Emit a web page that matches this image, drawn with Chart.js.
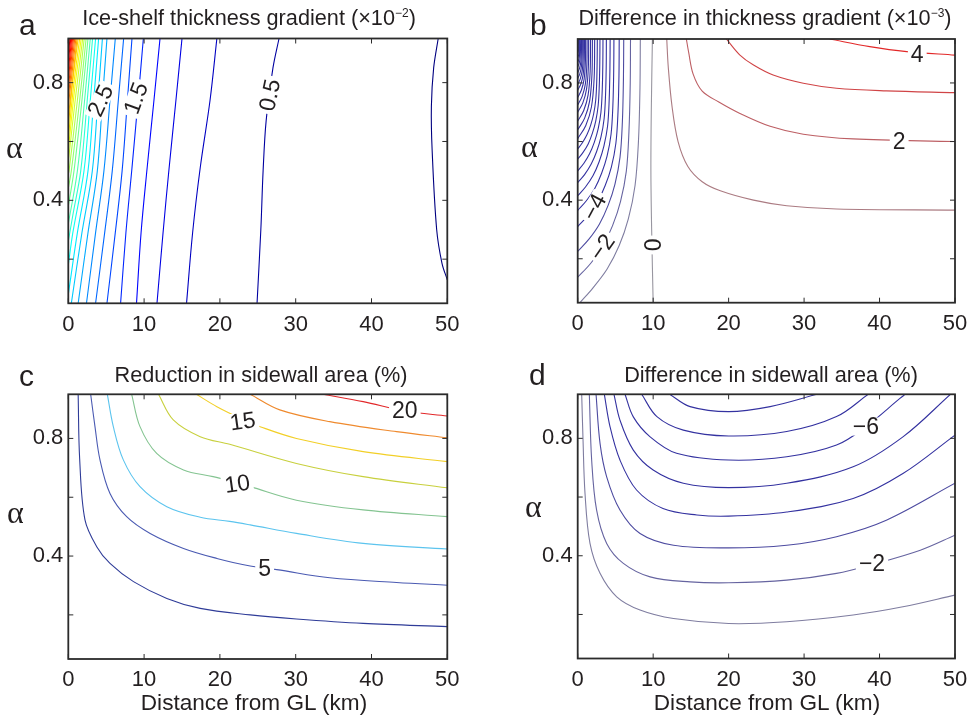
<!DOCTYPE html>
<html>
<head>
<meta charset="utf-8">
<script src="https://cdn.jsdelivr.net/npm/chart.js@4.4.0/dist/chart.umd.min.js"></script>
<style>
  html, body { margin: 0; padding: 0; background: #fff; }
  body { width: 974px; height: 722px; position: relative; overflow: hidden;
         font-family: "Liberation Sans", Arial, sans-serif; color: #231f20; }
  canvas { position: absolute; }
  .txt { position: absolute; white-space: nowrap; line-height: 1; }
  .title { font-size: 21.7px; transform: translateX(-50%); }
  .letter { font-size: 30px; }
  .alpha { font-family: "Liberation Serif", "DejaVu Serif", serif; font-size: 32px; }
  .xlab { font-size: 22.6px; transform: translateX(-50%); }
  sup { font-size: 12px; position: relative; top: -8px; vertical-align: baseline; }
</style>
</head>
<body>
<canvas id="chartA" width="487" height="345" style="left:0;top:0"></canvas>
<canvas id="chartB" width="487" height="345" style="left:487px;top:0"></canvas>
<canvas id="chartC" width="487" height="377" style="left:0;top:345px"></canvas>
<canvas id="chartD" width="487" height="377" style="left:487px;top:345px"></canvas>

<div class="txt letter" style="left:19px;top:10px">a</div>
<div class="txt letter" style="left:530px;top:10px">b</div>
<div class="txt letter" style="left:19px;top:361px">c</div>
<div class="txt letter" style="left:529px;top:360px">d</div>

<div class="txt title" style="left:249px;top:7px">Ice-shelf thickness gradient (×10<sup>−2</sup>)</div>
<div class="txt title" style="left:765px;top:7px">Difference in thickness gradient (×10<sup>−3</sup>)</div>
<div class="txt title" style="left:261px;top:364px">Reduction in sidewall area (%)</div>
<div class="txt title" style="left:771px;top:364px">Difference in sidewall area (%)</div>

<div class="txt alpha" style="left:6px;top:131px">α</div>
<div class="txt alpha" style="left:521px;top:130px">α</div>
<div class="txt alpha" style="left:7px;top:496px">α</div>
<div class="txt alpha" style="left:525px;top:490px">α</div>

<div class="txt xlab" style="left:254px;top:692px">Distance from GL (km)</div>
<div class="txt xlab" style="left:767px;top:692px">Distance from GL (km)</div>

<script>
// axes
const xTicks = [0, 10, 20, 30, 40, 50];
const yTicks = [0.2, 0.4, 0.6, 0.8];
const yTickLabels = [0.4, 0.8];

// (a) ice-shelf thickness gradient, x10^-2 ; each line = [km, alpha] pairs
const gradLevels = [0.25, 0.5, 0.75, 1, 1.25, 1.5, 1.75, 2, 2.25, 2.5, 2.75, 3, 3.25, 3.5, 3.75, 4,
  4.25, 4.5, 4.75, 5, 5.25, 5.5, 5.75, 6, 6.25, 6.5, 6.75, 7, 7.25, 7.5, 7.75, 8];
const gradLines = [
  [[48.8,0.95],[48.2,0.85],[47.9,0.72],[48.0,0.57],[48.6,0.30],[49.3,0.186],[50,0.13]],
  [[27.8,0.95],[27.0,0.85],[26.1,0.67],[25.7,0.5],[25.4,0.3],[24.9,0.05]],
  [[19.6,0.95],[18.7,0.74],[17.4,0.51],[16.4,0.29],[15.6,0.05]],
  [[15.0,0.95],[14.2,0.74],[13.3,0.51],[12.5,0.29],[11.7,0.05]],
  [[12.1,0.95],[11.3,0.74],[10.4,0.51],[9.6,0.29],[9.0,0.05]],
  [[9.9,0.95],[9.2,0.74],[8.4,0.51],[7.6,0.29],[6.9,0.05]],
  [[8.4,0.95],[7.8,0.74],[7.1,0.5],[6.2,0.29],[5.1,0.05]],
  [[7.3,0.95],[6.6,0.74],[5.8,0.5],[4.8,0.29],[3.6,0.05]],
  [[6.2,0.95],[5.5,0.74],[4.7,0.5],[3.6,0.29],[2.4,0.05]],
  [[5.1,0.95],[4.5,0.74],[3.83,0.5],[2.6,0.29],[1.3,0.05]],
  [[4.5,0.95],[3.9,0.74],[3.17,0.5],[1.8,0.29],[0.4,0.05]],
  [[4.0,0.95],[3.35,0.74],[2.6,0.5],[1.2,0.29],[0,0.08]],
  [[3.6,0.95],[2.9,0.74],[2.07,0.5],[0.6,0.29],[0,0.18]],
  [[3.2,0.95],[2.5,0.74],[1.64,0.5],[0.6,0.35],[0,0.26]],
  [[2.9,0.95],[2.15,0.74],[1.2,0.5],[0,0.32]],
  [[2.6,0.95],[1.8,0.74],[0.75,0.5],[0,0.38]],
  [[2.35,0.95],[1.5,0.74],[0.4,0.5],[0,0.44]],
  [[2.1,0.95],[1.2,0.74],[0.1,0.5],[0,0.49]],
  [[1.9,0.95],[0.95,0.75],[0,0.53]],
  [[1.7,0.95],[0.8,0.77],[0,0.57]],
  [[1.5,0.95],[0.7,0.79],[0,0.61]],
  [[1.3,0.95],[0.6,0.81],[0,0.65]],
  [[1.15,0.95],[0,0.68]],
  [[1.0,0.95],[0,0.72]],
  [[0.85,0.95],[0,0.75]],
  [[0.7,0.95],[0,0.78]],
  [[0.57,0.95],[0,0.81]],
  [[0.45,0.95],[0,0.84]],
  [[0.33,0.95],[0,0.87]],
  [[0.22,0.95],[0,0.89]],
  [[0.12,0.95],[0,0.92]],
  [[0.04,0.95],[0,0.94]]
];
const gradLabels = [
  { x: 4.26, y: 0.739, text: '2.5', rot: -65 },
  { x: 8.93, y: 0.747, text: '1.5', rot: -70 },
  { x: 26.6, y: 0.758, text: '0.5', rot: -78 }
];

// (b) difference in thickness gradient, x10^-3
const diffGradLevels = [4, 3, 2, 1, 0, -1, -2, -3, -4, -5, -6, -7, -8, -9, -10, -11, -12, -13,
  -14, -15, -16, -17, -18, -19, -20, -21, -22, -23, -24, -25, -26];
const diffGradLines = [
  [[33.4,0.95],[38.7,0.924],[43.6,0.907],[50,0.895]],
  [[19.7,0.95],[21.5,0.895],[23.3,0.861],[25.9,0.827],[29.9,0.799],[34.3,0.782],[40.9,0.773],[50,0.767]],
  [[14.4,0.95],[14.7,0.905],[15.3,0.83],[16.5,0.772],[18.7,0.735],[21.5,0.696],[25.5,0.652],[29.9,0.625],[36.5,0.609],[50,0.6]],
  [[11.8,0.95],[12.0,0.855],[12.5,0.72],[13.3,0.6],[14.6,0.515],[16.5,0.463],[18.9,0.432],[23.3,0.40],[27.7,0.381],[34.3,0.37],[50,0.366]],
  [[9.9,0.95],[9.75,0.7],[9.7,0.5],[9.8,0.3],[10.0,0.05]],
  [[0.3,0.05],[2.0,0.1],[3.9,0.165],[5.5,0.245],[6.7,0.335],[7.6,0.45],[8.05,0.6],[8.25,0.78],[8.3,0.95]],
  [[0,0.137],[1.68,0.183],[3.29,0.241],[4.62,0.313],[5.67,0.395],[6.44,0.498],[6.79,0.633],[6.96,0.796],[7.0,0.95]],
  [[0,0.225],[1.46,0.266],[2.87,0.318],[4.03,0.382],[4.94,0.455],[5.61,0.547],[5.92,0.667],[6.06,0.812],[6.1,0.95]],
  [[0,0.31],[1.32,0.346],[2.59,0.392],[3.63,0.449],[4.46,0.513],[5.06,0.594],[5.34,0.7],[5.47,0.828],[5.5,0.95]],
  [[0,0.365],[1.15,0.398],[2.26,0.44],[3.17,0.492],[3.89,0.55],[4.42,0.625],[4.66,0.722],[4.77,0.839],[4.8,0.95]],
  [[0,0.415],[1.03,0.445],[2.02,0.483],[2.84,0.531],[3.48,0.585],[3.96,0.653],[4.17,0.741],[4.27,0.848],[4.3,0.95]],
  [[0,0.46],[0.91,0.487],[1.79,0.523],[2.51,0.566],[3.08,0.615],[3.5,0.678],[3.69,0.759],[3.78,0.857],[3.8,0.95]],
  [[0,0.5],[0.8,0.525],[1.57,0.558],[2.21,0.598],[2.71,0.643],[3.08,0.7],[3.25,0.775],[3.33,0.865],[3.35,0.95]],
  [[0,0.54],[0.71,0.563],[1.39,0.592],[1.95,0.629],[2.39,0.67],[2.71,0.722],[2.86,0.79],[2.93,0.872],[2.95,0.95]],
  [[0,0.575],[0.62,0.596],[1.22,0.623],[1.72,0.656],[2.11,0.694],[2.39,0.742],[2.52,0.804],[2.58,0.879],[2.6,0.95]],
  [[0,0.61],[1.06,0.654],[1.82,0.718],[2.18,0.817],[2.25,0.95]],
  [[0,0.64],[0.92,0.68],[1.58,0.738],[1.89,0.829],[1.95,0.95]],
  [[0,0.67],[0.8,0.706],[1.38,0.759],[1.65,0.841],[1.7,0.95]],
  [[0,0.7],[0.68,0.732],[1.17,0.779],[1.41,0.853],[1.45,0.95]],
  [[0,0.725],[0.59,0.754],[1.01,0.796],[1.21,0.862],[1.25,0.95]],
  [[0,0.75],[0.49,0.776],[0.85,0.813],[1.02,0.872],[1.05,0.95]],
  [[0,0.775],[0.42,0.797],[0.73,0.83],[0.87,0.882],[0.9,0.95]],
  [[0,0.795],[0.35,0.815],[0.61,0.844],[0.73,0.89],[0.75,0.95]],
  [[0,0.815],[0.29,0.832],[0.5,0.858],[0.6,0.897],[0.62,0.95]],
  [[0,0.835],[0.24,0.85],[0.41,0.871],[0.49,0.905],[0.5,0.95]],
  [[0,0.855],[0.19,0.867],[0.32,0.885],[0.4,0.95]],
  [[0,0.87],[0.14,0.88],[0.24,0.895],[0.3,0.95]],
  [[0,0.885],[0.1,0.893],[0.18,0.905],[0.22,0.95]],
  [[0,0.9],[0.07,0.906],[0.12,0.916],[0.15,0.95]],
  [[0,0.915],[0.05,0.92],[0.09,0.95]],
  [[0,0.93],[0.04,0.95]]
];
const diffGradLabels = [
  { x: 2.2, y: 0.376, text: '−4', rot: -62 },
  { x: 3.26, y: 0.239, text: '−2', rot: -55 },
  { x: 10.0, y: 0.247, text: '0', rot: -90 },
  { x: 45.0, y: 0.895, text: '4', rot: 0 },
  { x: 42.6, y: 0.601, text: '2', rot: 0 }
];

// (c) reduction in sidewall area (%)
const wallLevels = [2.5, 5, 7.5, 10, 12.5, 15, 17.5, 20];
const wallLines = [
  [[1.3,0.95],[1.5,0.73],[2.2,0.523],[3.75,0.432],[5.5,0.375],[8.6,0.313],[13.0,0.256],[17.4,0.222],[24.0,0.2],[30.1,0.186],[38.9,0.171],[50,0.16]],
  [[2.95,0.95],[3.52,0.84],[4.18,0.727],[5.5,0.613],[7.7,0.534],[10.8,0.477],[15.2,0.426],[19.6,0.392],[24,0.366],[27.5,0.354],[34.5,0.326],[43.3,0.31],[50,0.301]],
  [[5.15,0.95],[5.94,0.84],[7.26,0.727],[9.46,0.636],[13.0,0.568],[17.4,0.532],[21.3,0.518],[24,0.506],[30.1,0.477],[38.9,0.443],[50,0.424]],
  [[8.36,0.95],[9.46,0.84],[11.66,0.749],[15.2,0.693],[19.1,0.67],[22.3,0.648],[24,0.636],[30.1,0.59],[38.9,0.557],[50,0.534]],
  [[11.9,0.95],[13.85,0.863],[17.4,0.806],[21.3,0.78],[30.1,0.715],[38.9,0.67],[50,0.632]],
  [[16.9,0.95],[19.6,0.908],[23,0.865],[25.3,0.84],[30.1,0.8],[38.9,0.755],[50,0.721]],
  [[24,0.95],[27.9,0.897],[34.5,0.857],[43.3,0.823],[50,0.802]],
  [[33.6,0.95],[38.9,0.925],[44.4,0.893],[50,0.876]]
];
const wallLabels = [
  { x: 25.9, y: 0.357, text: '5', rot: 0 },
  { x: 22.3, y: 0.645, text: '10', rot: -8 },
  { x: 23.0, y: 0.858, text: '15', rot: -8 },
  { x: 44.4, y: 0.893, text: '20', rot: 0 }
];

// (d) difference in sidewall area (%)
const diffWallLevels = [-1, -2, -3, -4, -5, -6, -7, -8];
const diffWallLines = [
  [[0.53,0.95],[0.7,0.8],[0.97,0.612],[1.63,0.442],[2.96,0.34],[5.17,0.26],[8.26,0.215],[12.7,0.186],[20,0.169],[27.7,0.175],[36.5,0.198],[43.1,0.226],[50,0.266]],
  [[1.54,0.95],[1.85,0.726],[2.5,0.556],[3.84,0.442],[6.05,0.374],[9.6,0.328],[14.9,0.311],[20,0.308],[27.7,0.317],[34.3,0.34],[39.0,0.37],[45.4,0.419],[50,0.47]],
  [[2.43,0.95],[2.96,0.783],[3.84,0.669],[5.6,0.556],[8.26,0.476],[12.7,0.436],[20,0.427],[27.7,0.436],[34.3,0.465],[40.9,0.521],[50,0.647]],
  [[3.53,0.95],[4.28,0.84],[5.6,0.726],[7.8,0.624],[11.3,0.561],[15.8,0.539],[20,0.535],[27.7,0.549],[36.5,0.595],[43.1,0.68],[50,0.811]],
  [[4.81,0.95],[5.6,0.862],[7.37,0.76],[10,0.692],[14,0.647],[20,0.632],[27.7,0.647],[36.5,0.703],[43.1,0.805],[49.4,0.95]],
  [[6.27,0.95],[7.37,0.873],[9.6,0.805],[13.1,0.749],[20,0.726],[27.7,0.737],[34.3,0.777],[38.2,0.84],[42.7,0.936],[43.4,0.95]],
  [[8.48,0.95],[10.5,0.874],[14,0.828],[20,0.808],[27.7,0.823],[34.3,0.874],[38.5,0.95]],
  [[12.2,0.95],[14.9,0.908],[20,0.891],[25.5,0.908],[31.7,0.95]]
];
const diffWallLabels = [
  { x: 38.2, y: 0.84, text: '−6', rot: 0 },
  { x: 39.0, y: 0.372, text: '−2', rot: 0 }
];

const ink = '#231f20';
const fontFamily = '"Liberation Sans", Arial, sans-serif';
const wallColors = ['#2f3c98', '#4a5ab2', '#5cc4ee', '#84c491', '#c8d03e', '#f2cf27', '#ef8a2e', '#e2282a'];

function jet(t) {
  const c = v => Math.round(255 * Math.max(0, Math.min(1, v)));
  return `rgb(${c(1.5 - Math.abs(4 * t - 3))},${c(1.5 - Math.abs(4 * t - 2))},${c(1.5 - Math.abs(4 * t - 1))})`;
}

function diverge(level) {
  const t = Math.min(1, Math.abs(level) / 4);
  const g = [152, 150, 160];
  const e = level < 0 ? [52, 50, 160] : [226, 40, 40];
  return 'rgb(' + g.map((v, i) => Math.round(v + (e[i] - v) * t)).join(',') + ')';
}

function contourSets(lines, levels, colorOf) {
  return lines.map((pts, i) => ({
    data: pts.map(p => ({ x: p[0], y: p[1] })),
    showLine: true,
    borderColor: colorOf(levels[i], i),
    borderWidth: 1.1,
    pointRadius: 0,
    tension: 0.35,
    fill: false,
    clip: 0
  }));
}

// contour labels with a white gap behind them
const contourLabels = {
  id: 'contourLabels',
  afterDatasetsDraw(chart, args, opts) {
    const { ctx, scales: { x, y } } = chart;
    ctx.save();
    ctx.font = `23px ${fontFamily}`;
    ctx.textAlign = 'center';
    ctx.textBaseline = 'middle';
    (opts.items || []).forEach(l => {
      const px = x.getPixelForValue(l.x), py = y.getPixelForValue(l.y);
      const w = ctx.measureText(l.text).width + 6;
      ctx.save();
      ctx.translate(px, py);
      ctx.rotate(l.rot * Math.PI / 180);
      ctx.fillStyle = '#fff';
      ctx.fillRect(-w / 2, -9, w, 18);
      ctx.fillStyle = ink;
      ctx.fillText(l.text, 0, 1);
      ctx.restore();
    });
    ctx.restore();
  }
};

// box round the plot with inward tick marks on all sides
const frame = {
  id: 'frame',
  afterDraw(chart) {
    const { ctx, chartArea: a, scales: { x, y } } = chart;
    ctx.save();
    ctx.strokeStyle = '#2b2b2b';
    ctx.lineWidth = 1;
    ctx.beginPath();
    xTicks.forEach(v => {
      const px = x.getPixelForValue(v);
      ctx.moveTo(px, a.bottom); ctx.lineTo(px, a.bottom - 5);
      ctx.moveTo(px, a.top); ctx.lineTo(px, a.top + 5);
    });
    yTicks.forEach(v => {
      const py = y.getPixelForValue(v);
      ctx.moveTo(a.left, py); ctx.lineTo(a.left + 5, py);
      ctx.moveTo(a.right, py); ctx.lineTo(a.right - 5, py);
    });
    ctx.stroke();
    ctx.lineWidth = 1.8;
    ctx.strokeRect(a.left, a.top, a.width, a.height);
    ctx.restore();
  }
};

function makeChart(id, datasets, labels, box) {
  const tickFont = { family: fontFamily, size: 22 };
  new Chart(document.getElementById(id), {
    type: 'scatter',
    data: { datasets },
    plugins: [contourLabels, frame],
    options: {
      responsive: false,
      animation: false,
      events: [],
      layout: { autoPadding: false, padding: { left: 0, top: box.top, right: box.right, bottom: 0 } },
      plugins: {
        legend: { display: false },
        tooltip: { enabled: false },
        contourLabels: { items: labels }
      },
      scales: {
        x: {
          type: 'linear', min: 0, max: 50,
          afterBuildTicks: s => { s.ticks = xTicks.map(v => ({ value: v })); },
          afterFit: s => { s.height = box.xh; s.paddingLeft = 0; s.paddingRight = 0; },
          grid: { display: false, drawTicks: false },
          border: { display: false },
          ticks: { font: tickFont, color: ink, padding: 8, maxRotation: 0, autoSkip: false }
        },
        y: {
          type: 'linear', min: 0.05, max: 0.95,
          afterBuildTicks: s => { s.ticks = yTicks.map(v => ({ value: v })); },
          afterFit: s => { s.width = box.yw; s.paddingTop = 0; s.paddingBottom = 0; },
          grid: { display: false, drawTicks: false },
          border: { display: false },
          ticks: {
            font: tickFont, color: ink, padding: 5, autoSkip: false,
            callback: v => yTickLabels.some(t => Math.abs(t - v) < 1e-9) ? v.toFixed(1) : ''
          }
        }
      }
    }
  });
}

makeChart('chartA', contourSets(gradLines, gradLevels, l => jet((l - 0.25) / 7.75)), gradLabels,
  { top: 38.5, right: 39.7, yw: 68.3, xh: 41.7 });
makeChart('chartB', contourSets(diffGradLines, diffGradLevels, diverge), diffGradLabels,
  { top: 39, right: 19, yw: 90.7, xh: 42.3 });
makeChart('chartC', contourSets(wallLines, wallLevels, (l, i) => wallColors[i]), wallLabels,
  { top: 49.3, right: 39.7, yw: 68.3, xh: 63 });
makeChart('chartD', contourSets(diffWallLines, diffWallLevels, diverge), diffWallLabels,
  { top: 49.3, right: 19, yw: 90.7, xh: 63.5 });
</script>
</body>
</html>
